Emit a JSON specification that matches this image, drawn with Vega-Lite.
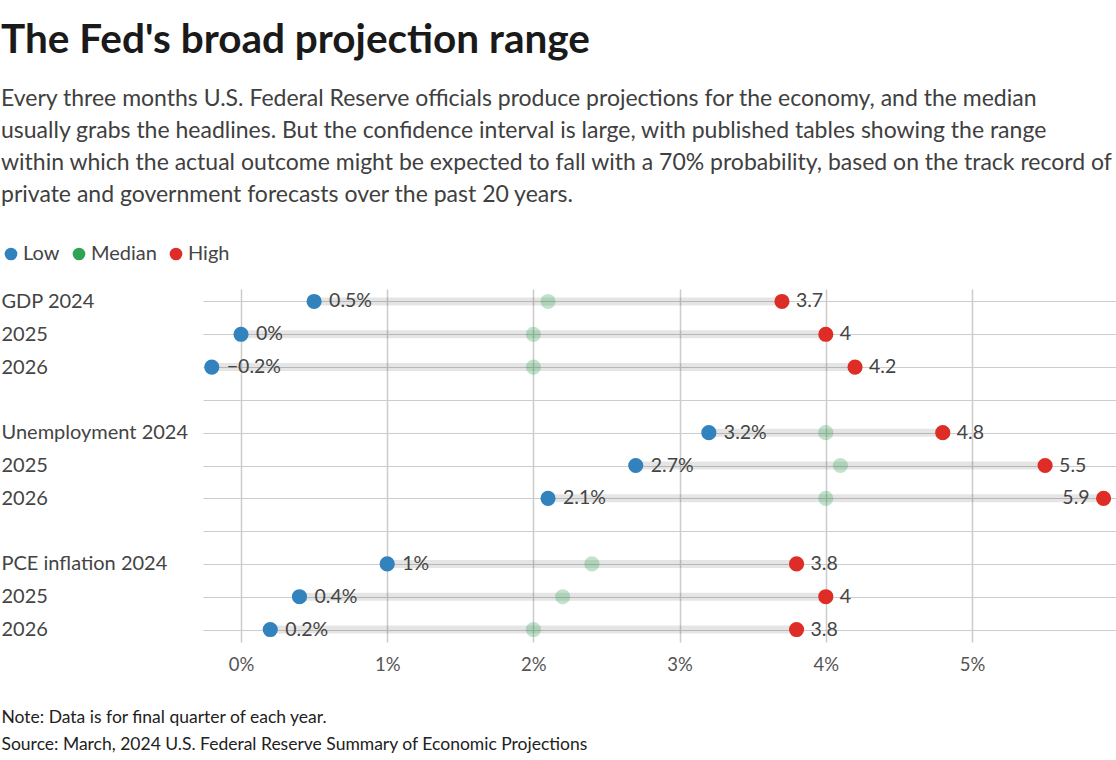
{
  "$schema": "https://vega.github.io/schema/vega-lite/v6.json",
  "width": 913,
  "height": 353,
  "padding": {"left": 1, "top": 20, "right": 0, "bottom": 5},
  "background": "white",
  "config": {"font": "Lato", "view": {"stroke": null}},
  "title": {
    "text": "The Fed's broad projection range",
    "subtitle": [
      "Every three months U.S. Federal Reserve officials produce projections for the economy, and the median",
      "usually grabs the headlines. But the confidence interval is large, with published tables showing the range",
      "within which the actual outcome might be expected to fall with a 70% probability, based on the track record of",
      "private and government forecasts over the past 20 years."
    ],
    "anchor": "start",
    "frame": "bounds",
    "fontSize": 40.5,
    "fontWeight": "bold",
    "color": "#1a1a1a",
    "subtitleFontSize": 23,
    "subtitleColor": "#404040",
    "subtitleLineHeight": 32,
    "subtitlePadding": 27,
    "offset": 37
  },
  "data": {
    "values": [
      {"row": "GDP 2024", "low": 0.5, "median": 2.1, "high": 3.7, "lowLabel": "0.5%"},
      {"row": "GDP 2025", "low": 0.0, "median": 2.0, "high": 4.0, "lowLabel": "0%"},
      {"row": "GDP 2026", "low": -0.2, "median": 2.0, "high": 4.2, "lowLabel": "−0.2%"},
      {"row": "Unemployment 2024", "low": 3.2, "median": 4.0, "high": 4.8, "lowLabel": "3.2%"},
      {"row": "Unemployment 2025", "low": 2.7, "median": 4.1, "high": 5.5, "lowLabel": "2.7%"},
      {"row": "Unemployment 2026", "low": 2.1, "median": 4.0, "high": 5.9, "lowLabel": "2.1%"},
      {"row": "PCE inflation 2024", "low": 1.0, "median": 2.4, "high": 3.8, "lowLabel": "1%"},
      {"row": "PCE inflation 2025", "low": 0.4, "median": 2.2, "high": 4.0, "lowLabel": "0.4%"},
      {"row": "PCE inflation 2026", "low": 0.2, "median": 2.0, "high": 3.8, "lowLabel": "0.2%"}
    ]
  },
  "encoding": {
    "y": {
      "field": "row",
      "type": "nominal",
      "scale": {
        "type": "point",
        "padding": 0.38,
        "domain": ["GDP 2024", "GDP 2025", "GDP 2026", "gap1", "Unemployment 2024", "Unemployment 2025", "Unemployment 2026", "gap2", "PCE inflation 2024", "PCE inflation 2025", "PCE inflation 2026"]
      },
      "axis": {
        "title": null,
        "domain": false,
        "ticks": false,
        "grid": true,
        "gridColor": "#cccccc",
        "gridWidth": 1,
        "labelAlign": "left",
        "labelBaseline": "middle",
        "labelPadding": 202,
        "labelLimit": 0,
        "labelFontSize": 20,
        "labelColor": "#444444",
        "labelExpr": "indexof(datum.value,'gap')===0 ? '' : (indexof(datum.value,'2024')>=0 ? datum.value : slice(datum.value,-4))"
      }
    }
  },
  "layer": [
    {
      "mark": {"type": "rule", "strokeWidth": 8, "color": "#000000", "opacity": 0.1},
      "encoding": {
        "x": {
          "field": "low",
          "type": "quantitative",
          "scale": {"domain": [-0.26, 5.985], "nice": false, "zero": false},
          "axis": {
            "title": ["Note: Data is for final quarter of each year.", "Source: March, 2024 U.S. Federal Reserve Summary of Economic Projections"],
            "values": [0, 1, 2, 3, 4, 5],
            "labelExpr": "datum.value + '%'",
            "domain": false,
            "ticks": false,
            "grid": true,
            "gridColor": "#cccccc",
            "gridWidth": 1.5,
            "labelFontSize": 18.5,
            "labelColor": "#555555",
            "labelPadding": 13,
            "titleX": -202,
            "titleY": 66,
            "titleAlign": "left",
            "titleAnchor": "start",
            "titleBaseline": "top",
            "titleFontSize": 17.5,
            "titleFontWeight": "normal",
            "titleColor": "#222222",
            "titleLineHeight": 27
          }
        },
        "x2": {"field": "high"}
      }
    },
    {
      "transform": [{"fold": ["low", "median", "high"], "as": ["key", "value"]}],
      "mark": {"type": "circle", "size": 230},
      "encoding": {
        "x": {"field": "value", "type": "quantitative"},
        "color": {
          "field": "key",
          "type": "nominal",
          "scale": {"domain": ["low", "median", "high"], "range": ["#3182bd", "#31a354", "#de2d26"]},
          "legend": {
            "orient": "none",
            "legendX": -202,
            "legendY": -45,
            "padding": 0,
            "direction": "horizontal",
            "title": null,
            "labelFontSize": 20,
            "labelColor": "#444444",
            "symbolSize": 160,
            "symbolType": "circle",
            "symbolStrokeWidth": 0,
            "symbolOpacity": 1,
            "columnPadding": 9,
            "labelOffset": 2,
            "labelExpr": "datum.value === 'low' ? 'Low' : (datum.value === 'median' ? 'Median' : 'High')"
          }
        },
        "opacity": {"condition": {"test": "datum.key === 'median'", "value": 0.3}, "value": 1}
      }
    },
    {
      "mark": {"type": "text", "align": "left", "baseline": "middle", "dx": 15, "fontSize": 19.5, "color": "#444444"},
      "encoding": {
        "x": {"field": "low", "type": "quantitative"},
        "text": {"field": "lowLabel", "type": "nominal"}
      }
    },
    {
      "transform": [{"filter": "datum.high < 5.85"}],
      "mark": {"type": "text", "align": "left", "baseline": "middle", "dx": 14, "fontSize": 19.5, "color": "#444444"},
      "encoding": {
        "x": {"field": "high", "type": "quantitative"},
        "text": {"field": "high", "type": "quantitative", "format": "~g"}
      }
    },
    {
      "transform": [{"filter": "datum.high >= 5.85"}],
      "mark": {"type": "text", "align": "right", "baseline": "middle", "dx": -14, "fontSize": 19.5, "color": "#444444"},
      "encoding": {
        "x": {"field": "high", "type": "quantitative"},
        "text": {"field": "high", "type": "quantitative", "format": "~g"}
      }
    }
  ]
}
